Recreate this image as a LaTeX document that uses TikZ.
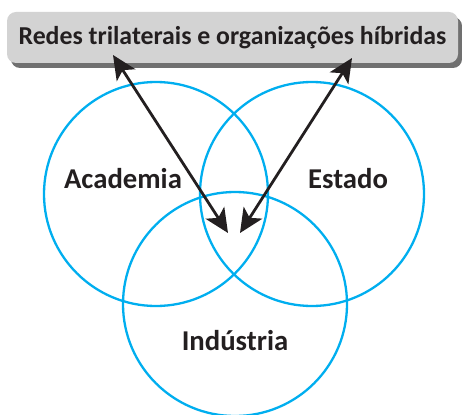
\documentclass[tikz,border=0pt]{standalone}
\usepackage{fontspec}
\setmainfont{Carlito}
\usetikzlibrary{arrows.meta}
\definecolor{vennblue}{HTML}{00AEEF}
\definecolor{bannerfill}{HTML}{D3D3D3}
\definecolor{bannershadow}{HTML}{707070}
\definecolor{inkblack}{HTML}{231F20}
\tikzset{
  venn/.style={circle, draw=vennblue, line width=2.3pt, minimum size=224pt, inner sep=0pt},
  vlabel/.style={font=\fontsize{28.7}{32}\selectfont\bfseries, text=inkblack},
  dblarrow/.style={line width=2.8pt, draw=inkblack,
    {Stealth[length=24pt,width=22pt,inset=6pt]}-{Stealth[length=24pt,width=22pt,inset=6pt]}},
  banner/.style={rounded corners=9pt, fill=bannerfill, minimum width=451pt, minimum height=51pt, inner sep=0pt,
    font=\fontsize{25.8}{30}\selectfont\bfseries, text=inkblack},
}
\begin{document}
\begin{tikzpicture}[x=1pt,y=-1pt]
\useasboundingbox (0,0) rectangle (462,414);
% banner with shadow
\fill[bannershadow, rounded corners=9pt] (11,17) rectangle (462,68);
\node[banner] (title) at (232.5,37.5) {Redes trilaterais e organizações híbridas};
% circles
\node[venn] (acad) at (156,194) {};
\node[venn] (est) at (312,194) {};
\node[venn] (ind) at (235,304) {};
% labels
\node[vlabel] (lacad) at (123,179) {Academia};
\node[vlabel] (lest) at (348,179) {Estado};
\node[vlabel] (lind) at (235,341) {Indústria};
% arrow ends
\coordinate (topL) at (113,55);
\coordinate (botL) at (228,233);
\coordinate (topR) at (352,58);
\coordinate (botR) at (240,233);
\draw[dblarrow] (topL) -- (botL);
\draw[dblarrow] (topR) -- (botR);
\end{tikzpicture}
\end{document}
